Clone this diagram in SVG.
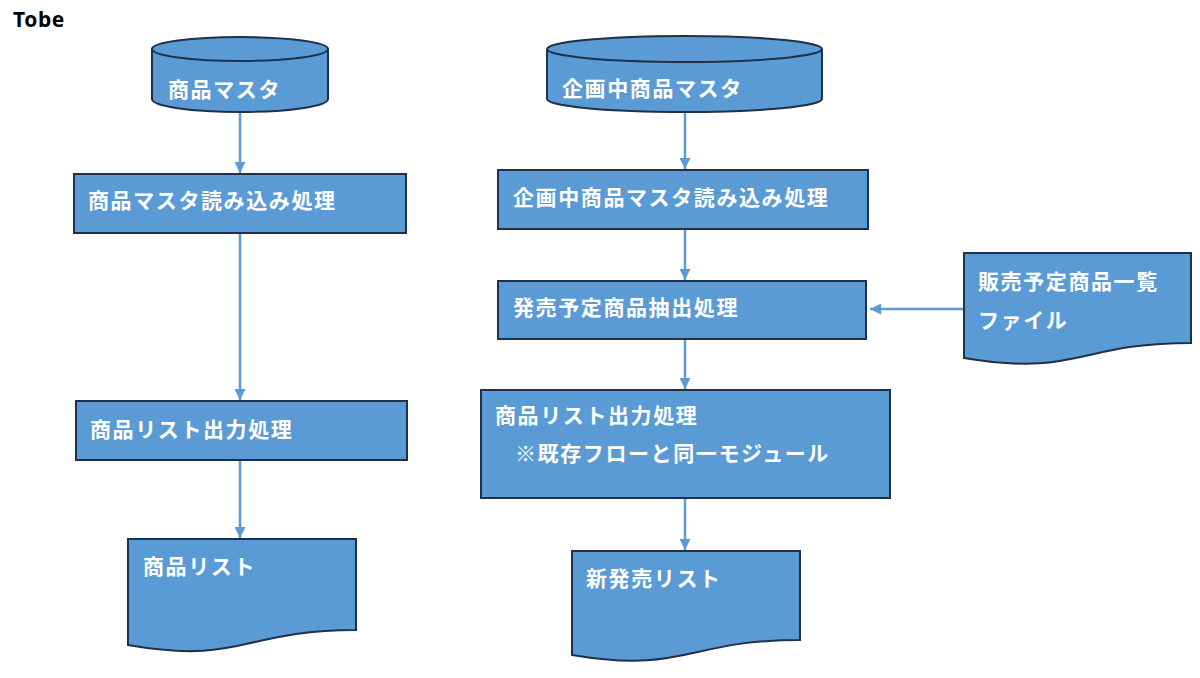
<svg xmlns="http://www.w3.org/2000/svg" width="1200" height="678" viewBox="0 0 1200 678">
<style>
.shape{fill:#5B9BD5;stroke:#1F3047;stroke-width:2}
.lbl{font-family:"Noto Sans CJK JP","Noto Sans",sans-serif;font-weight:bold;font-size:21px;fill:#FFFFFF;letter-spacing:1.6px}
.title{font-family:"Noto Sans","Liberation Sans",sans-serif;font-weight:bold;font-size:21px;fill:#000000;letter-spacing:0.6px}
.conn{stroke:#5B9BD5;stroke-width:2.5;fill:none;marker-end:url(#ah)}
</style>
<defs>
<marker id="ah" viewBox="0 0 10 10" refX="10" refY="5" markerWidth="11" markerHeight="11" markerUnits="userSpaceOnUse" orient="auto">
<path d="M0,0 L10,5 L0,10 Z" fill="#5B9BD5"/>
</marker>
</defs>
<rect width="1200" height="678" fill="#FFFFFF"/>
<text class="title" x="13" y="27">Tobe</text>

<g id="connectors">
<line class="conn" x1="240" y1="112" x2="240" y2="173"/>
<line class="conn" x1="240" y1="233" x2="240" y2="400"/>
<line class="conn" x1="240" y1="460" x2="240" y2="538"/>
<line class="conn" x1="685" y1="113" x2="685" y2="169"/>
<line class="conn" x1="685" y1="229" x2="685" y2="280"/>
<line class="conn" x1="685" y1="339" x2="685" y2="389"/>
<line class="conn" x1="685" y1="498" x2="685" y2="550"/>
<line class="conn" x1="964" y1="309" x2="870" y2="309"/>
</g>

<g id="db1">
<path class="shape" d="M152,49 V99 A88,13 0 0 0 328,99 V49"/>
<ellipse class="shape" cx="240" cy="49" rx="88" ry="12"/>
<text class="lbl" x="168" y="97">商品マスタ</text>
</g>

<g id="proc1">
<rect class="shape" x="74" y="174" width="332" height="59"/>
<text class="lbl" x="88" y="208">商品マスタ読み込み処理</text>
</g>

<g id="proc2">
<rect class="shape" x="76" y="401" width="331" height="59"/>
<text class="lbl" x="90" y="437">商品リスト出力処理</text>
</g>

<g id="doc1">
<path class="shape" d="M128,539 H356 V630 C242,630 242,665 128,645 Z"/>
<text class="lbl" x="143" y="574">商品リスト</text>
</g>

<g id="db2">
<path class="shape" d="M547,49 V99 A137.5,13 0 0 0 822,99 V49"/>
<ellipse class="shape" cx="684.5" cy="49" rx="137.5" ry="13"/>
<text class="lbl" x="562" y="96">企画中商品マスタ</text>
</g>

<g id="proc3">
<rect class="shape" x="498" y="170" width="370" height="59"/>
<text class="lbl" x="513" y="205">企画中商品マスタ読み込み処理</text>
</g>

<g id="proc4">
<rect class="shape" x="498" y="281" width="368" height="58"/>
<text class="lbl" x="513" y="315">発売予定商品抽出処理</text>
</g>

<g id="proc5">
<rect class="shape" x="481" y="390" width="409" height="108"/>
<text class="lbl" x="495" y="423">商品リスト出力処理</text>
<text class="lbl" x="515" y="461">※既存フローと同一モジュール</text>
</g>

<g id="doc2">
<path class="shape" d="M572,551 H800 V640 C686,640 686,674 572,655 Z"/>
<text class="lbl" x="586" y="586">新発売リスト</text>
</g>

<g id="doc3">
<path class="shape" d="M964,253 H1191 V343 C1078,343 1078,377 964,358 Z"/>
<text class="lbl" x="978" y="289">販売予定商品一覧</text>
<text class="lbl" x="978" y="328">ファイル</text>
</g>
</svg>
